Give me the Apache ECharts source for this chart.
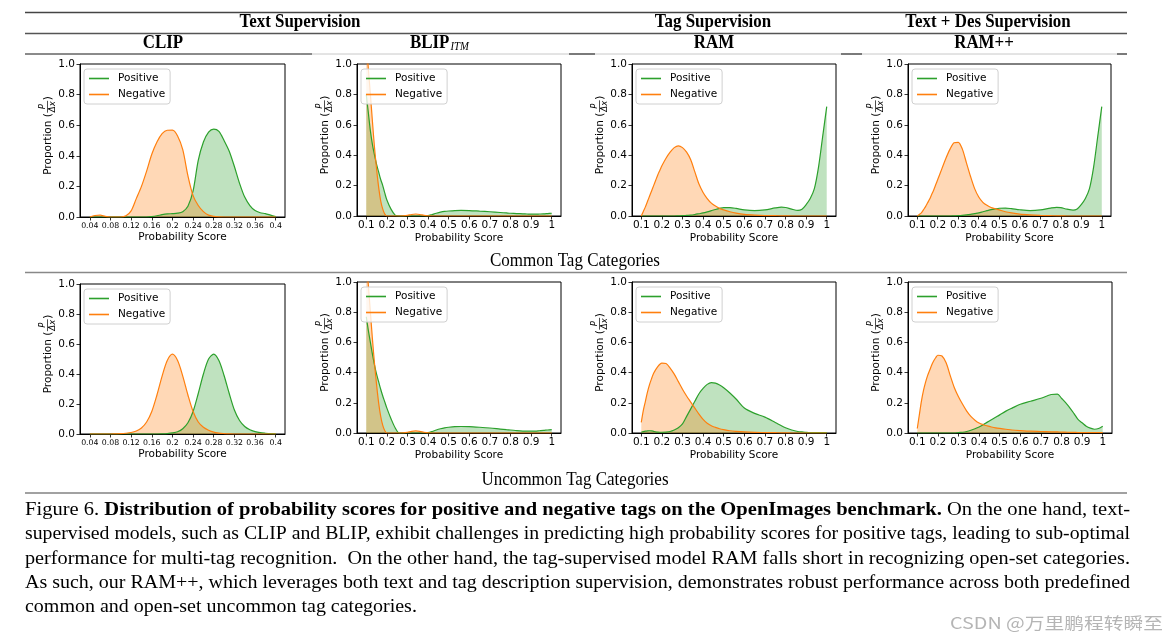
<!DOCTYPE html>
<html><head><meta charset="utf-8">
<script src="https://cdn.jsdelivr.net/npm/echarts@6/dist/echarts.min.js"></script>
<style>html,body{margin:0;padding:0;background:#fff}#c{width:1172px;height:640px}</style>
</head><body><div id="c"></div>
<script>
// ---------------- data ----------------
const clipTicks = [0.04,0.08,0.12,0.16,0.2,0.24,0.28,0.32,0.36,0.4];
const clipTickLabels = ['0.04','0.08','0.12','0.16','0.2','0.24','0.28','0.32','0.36','0.4'];
const scoreTicks = [0.1,0.2,0.3,0.4,0.5,0.6,0.7,0.8,0.9,1.0];
const scoreTickLabels = ['0.1','0.2','0.3','0.4','0.5','0.6','0.7','0.8','0.9','1'];
const yTickLabels = ['0.0','0.2','0.4','0.6','0.8','1.0'];

const clipX = [0.04,0.05,0.06,0.07,0.08,0.09,0.10,0.11,0.12,0.13,0.14,0.15,0.16,0.17,0.18,0.19,0.20,0.21,0.22,0.23,0.24,0.25,0.26,0.27,0.28,0.29,0.30,0.31,0.32,0.33,0.34,0.35,0.36,0.37,0.38,0.39,0.40];
const clipCommonPos = [0,0,0,0,0,0,0,0,0,0,0,0,0.003,0.008,0.015,0.02,0.022,0.025,0.035,0.07,0.17,0.37,0.49,0.555,0.575,0.56,0.5,0.43,0.33,0.22,0.13,0.075,0.042,0.028,0.022,0.012,0.002];
const clipCommonNeg = [0,0.01,0.012,0.004,0,0,0,0.008,0.04,0.12,0.2,0.3,0.41,0.49,0.545,0.567,0.568,0.53,0.44,0.27,0.14,0.075,0.035,0.012,0.004,0.001,0,0,0,0,0,0,0,0,0,0,0];
const clipUncommonPos = [0,0,0,0,0,0,0,0,0,0,0,0,0,0,0.001,0.003,0.007,0.015,0.035,0.075,0.15,0.27,0.40,0.50,0.533,0.49,0.39,0.27,0.16,0.09,0.05,0.028,0.016,0.009,0.005,0.002,0.001];
const clipUncommonNeg = [0,0,0,0,0,0.001,0.002,0.005,0.01,0.02,0.04,0.08,0.15,0.26,0.386,0.49,0.532,0.49,0.386,0.26,0.15,0.08,0.045,0.025,0.012,0.006,0.003,0.001,0,0,0,0,0,0,0,0,0];

const scoreX = [0.1,0.11,0.12,0.13,0.14,0.15,0.16,0.17,0.18,0.19,0.2,0.22,0.24,0.26,0.28,0.3,0.32,0.34,0.36,0.38,0.4,0.42,0.44,0.46,0.48,0.5,0.53,0.56,0.6,0.65,0.7,0.75,0.78,0.8,0.83,0.86,0.88,0.9,0.92,0.94,0.96,0.98,1.0];
const blipCommonPos = [0.8,0.68,0.56,0.47,0.4,0.34,0.29,0.24,0.2,0.15,0.105,0.045,0.006,0,0,0,0,0,0,0,0.002,0.01,0.018,0.025,0.03,0.033,0.036,0.037,0.036,0.032,0.028,0.023,0.02,0.018,0.016,0.014,0.013,0.012,0.012,0.013,0.014,0.016,0.018];
const blipCommonNeg = [1.15,0.97,0.8,0.62,0.45,0.31,0.19,0.1,0.045,0.012,0,0,0,0,0.001,0.004,0.01,0.013,0.01,0.004,0.001,0,0,0,0,0,0,0,0,0,0,0,0,0,0,0,0,0,0,0,0,0,0];
const blipUncommonPos = [0.77,0.68,0.6,0.52,0.45,0.39,0.34,0.29,0.245,0.205,0.165,0.095,0.035,0,0,0,0,0,0,0,0.002,0.01,0.02,0.028,0.034,0.038,0.042,0.043,0.042,0.038,0.033,0.026,0.022,0.02,0.016,0.013,0.012,0.012,0.013,0.015,0.017,0.02,0.022];
const blipUncommonNeg = [1.15,0.98,0.8,0.62,0.46,0.32,0.2,0.11,0.05,0.015,0,0,0,0,0.001,0.005,0.011,0.014,0.011,0.005,0.001,0,0,0,0,0,0,0,0,0,0,0,0,0,0,0,0,0,0,0,0,0,0];
const ramCommonPos = [0,0,0,0,0,0,0,0,0,0,0,0,0,0,0.001,0.002,0.004,0.006,0.01,0.015,0.02,0.027,0.035,0.043,0.05,0.055,0.055,0.05,0.04,0.035,0.04,0.053,0.058,0.056,0.045,0.037,0.045,0.075,0.115,0.18,0.32,0.52,0.72];
const ramCommonNeg = [0,0.03,0.06,0.095,0.13,0.165,0.2,0.235,0.27,0.3,0.33,0.38,0.42,0.45,0.462,0.45,0.42,0.37,0.29,0.21,0.155,0.115,0.085,0.065,0.05,0.04,0.028,0.019,0.011,0.006,0.003,0.002,0.001,0.001,0,0,0,0,0,0,0,0,0];
const rampCommonPos = [0,0,0,0,0,0,0,0,0,0,0,0,0,0,0.001,0.002,0.004,0.007,0.011,0.016,0.021,0.028,0.035,0.042,0.047,0.051,0.052,0.048,0.041,0.036,0.04,0.052,0.057,0.055,0.045,0.038,0.046,0.075,0.115,0.18,0.32,0.52,0.72];
const rampCommonNeg = [0,0.01,0.02,0.04,0.06,0.085,0.11,0.14,0.17,0.205,0.24,0.31,0.38,0.44,0.482,0.485,0.44,0.35,0.26,0.18,0.125,0.09,0.07,0.056,0.048,0.04,0.028,0.02,0.012,0.007,0.004,0.002,0.001,0.001,0,0,0,0,0,0,0,0,0];
const ramUncommonPos = [0.005,0.009,0.012,0.014,0.015,0.014,0.011,0.008,0.006,0.005,0.005,0.006,0.01,0.02,0.035,0.06,0.11,0.16,0.21,0.26,0.295,0.322,0.334,0.33,0.318,0.3,0.265,0.225,0.165,0.13,0.105,0.07,0.048,0.035,0.02,0.01,0.007,0.004,0.003,0.002,0.002,0.002,0.002];
const ramUncommonNeg = [0.07,0.15,0.21,0.27,0.32,0.36,0.395,0.42,0.44,0.455,0.463,0.46,0.43,0.39,0.34,0.29,0.245,0.205,0.165,0.125,0.09,0.065,0.048,0.037,0.028,0.022,0.015,0.011,0.007,0.004,0.003,0.002,0.001,0.001,0,0,0,0,0,0,0,0,0];
const rampUncommonPos = [0,0,0,0,0,0,0,0,0,0,0,0,0,0,0,0.003,0.005,0.01,0.018,0.028,0.04,0.055,0.072,0.088,0.104,0.12,0.145,0.165,0.19,0.21,0.23,0.255,0.258,0.23,0.185,0.13,0.09,0.068,0.045,0.032,0.025,0.03,0.045];
const rampUncommonNeg = [0.03,0.12,0.21,0.28,0.335,0.38,0.415,0.45,0.478,0.5,0.515,0.51,0.465,0.38,0.3,0.24,0.19,0.145,0.11,0.085,0.066,0.055,0.047,0.04,0.034,0.03,0.025,0.02,0.016,0.012,0.01,0.008,0.007,0.006,0.005,0.004,0.003,0.003,0.002,0.002,0.002,0.002,0.002];

const colTitles = ['CLIP','BLIP','RAM','RAM++'];
const groupTitles = ['Text Supervision','Tag Supervision','Text + Des Supervision'];
const rowTitles = ['Common Tag Categories','Uncommon Tag Categories'];
const seriesNames = ['Positive','Negative'];

// ---------------- layout ----------------
const GREEN = '#2ca02c', ORANGE = '#ff7f0e';
const panels = [
  {g:{left:80,top:64,width:205,height:153}, kind:'clip', x:clipX, pos:clipCommonPos, neg:clipCommonNeg},
  {g:{left:357,top:64,width:204,height:152}, kind:'score', x:scoreX, pos:blipCommonPos, neg:blipCommonNeg},
  {g:{left:632,top:64,width:204,height:152}, kind:'score', x:scoreX, pos:ramCommonPos, neg:ramCommonNeg},
  {g:{left:908,top:64,width:203,height:152}, kind:'score', x:scoreX, pos:rampCommonPos, neg:rampCommonNeg},
  {g:{left:80,top:284,width:205,height:150}, kind:'clip', x:clipX, pos:clipUncommonPos, neg:clipUncommonNeg},
  {g:{left:357,top:282,width:204,height:151}, kind:'score', x:scoreX, pos:blipUncommonPos, neg:blipUncommonNeg},
  {g:{left:632,top:282,width:204,height:151}, kind:'score', x:scoreX, pos:ramUncommonPos, neg:ramUncommonNeg},
  {g:{left:908,top:282,width:204,height:151}, kind:'score', x:scoreX, pos:rampUncommonPos, neg:rampUncommonNeg}
];

const ctx = document.createElement('canvas').getContext('2d');
function measure(t, font){ ctx.font = font; return ctx.measureText(t).width; }
const SANS = '"DejaVu Sans"';
const SERIF = '"Liberation Serif"';

const grid = [], xAxis = [], yAxis = [], series = [], legend = [], graphic = [];
panels.forEach((p, i) => {
  grid.push(Object.assign({show:true, borderColor:'#000', borderWidth:1, containLabel:false}, p.g));
  const ticks = p.kind === 'clip' ? clipTicks : scoreTicks;
  const labels = p.kind === 'clip' ? clipTickLabels : scoreTickLabels;
  const fmt = v => { const k = ticks.findIndex(t => Math.abs(t - v) < 1e-9); return k >= 0 ? labels[k] : ''; };
  xAxis.push({
    type:'value', gridIndex:i,
    min: p.kind === 'clip' ? 0.021 : 0.055, max: p.kind === 'clip' ? 0.418 : 1.045,
    axisLine:{show:true, onZero:false, lineStyle:{color:'#000', width:1}},
    axisTick:{show:true, customValues:ticks, length:3.5, lineStyle:{color:'#000', width:0.8}},
    axisLabel:{show:true, customValues:ticks, formatter:fmt, color:'#000', fontFamily:SANS, fontSize: p.kind === 'clip' ? 7.8 : 10.5, margin: p.kind==='clip' ? 5 : 4},
    splitLine:{show:false},
    name:'Probability Score', nameLocation:'middle', nameGap: p.kind==='clip' ? 15 : 17,
    nameTextStyle:{color:'#000', fontFamily:SANS, fontSize:10.5}
  });
  yAxis.push({
    type:'value', gridIndex:i, min:0, max:1, interval:0.2,
    axisLine:{show:true, lineStyle:{color:'#000', width:1}},
    axisTick:{show:true, length:3.5, lineStyle:{color:'#000', width:0.8}},
    axisLabel:{color:'#000', fontFamily:SANS, fontSize:10.5, margin:5, formatter: v => yTickLabels[Math.round(v/0.2)]},
    splitLine:{show:false}
  });
  const mk = (name, ys, color) => ({
    type:'line', name, xAxisIndex:i, yAxisIndex:i,
    data: p.x.map((x, k) => [x, ys[k]]),
    smooth:0.3, symbol:'none', clip:true,
    color, itemStyle:{color},
    lineStyle:{color, width:1.2},
    areaStyle:{color, opacity:0.3},
    silent:true
  });
  series.push(mk(seriesNames[0], p.pos, GREEN));
  series.push(mk(seriesNames[1], p.neg, ORANGE));
  legend.push({
    left:p.g.left+4, top:p.g.top+5, orient:'vertical', data:seriesNames.slice(),
    icon:'rect', itemWidth:20, itemHeight:1.6, itemGap:5, padding:[4,5,4,5],
    borderColor:'#d0d0d0', borderWidth:1, borderRadius:3, backgroundColor:'rgba(255,255,255,0.8)',
    selectedMode:false,
    textStyle:{fontFamily:SANS, fontSize:10.5, color:'#000', padding:[0,0,0,4]}
  });
  // y axis label with stacked fraction
  const f1 = '10.5px ' + SANS, ff = 'italic 8.5px ' + SANS;
  const w1 = measure('Proportion (', f1);
  const wf = Math.max(measure('P', ff), measure('\u0394x', ff)) + 2;
  const w3 = measure(')', f1);
  const W = w1 + wf + w3, x0 = -W/2;
  const cx = p.g.left - 32, cy = p.g.top + p.g.height/2 - 5;
  graphic.push({type:'group', x:cx, y:cy, rotation:Math.PI/2, silent:true, children:[
    {type:'text', x:x0, y:0, style:{text:'Proportion (', font:f1, fill:'#000', textAlign:'left', textVerticalAlign:'middle'}},
    {type:'text', x:x0+w1+wf/2, y:-5, style:{text:'P', font:ff, fill:'#000', textAlign:'center', textVerticalAlign:'middle'}},
    {type:'line', shape:{x1:x0+w1+0.5, y1:-0.5, x2:x0+w1+wf-0.5, y2:-0.5}, style:{stroke:'#000', lineWidth:0.7}},
    {type:'text', x:x0+w1+wf/2, y:4.5, style:{text:'\u0394x', font:ff, fill:'#000', textAlign:'center', textVerticalAlign:'middle'}},
    {type:'text', x:x0+w1+wf, y:0, style:{text:')', font:f1, fill:'#000', textAlign:'left', textVerticalAlign:'middle'}}
  ]});
});

// ---------------- table rules & titles ----------------
function hline(x1, x2, y, color, w){ graphic.push({type:'line', silent:true, shape:{x1, y1:y, x2, y2:y}, style:{stroke:color, lineWidth:w}}); }
hline(25, 1127, 12.5, '#444', 1.5);
hline(25, 1127, 33.5, '#555', 1.3);
hline(25, 1127, 54, '#c8c8c8', 1);
[[25,312],[569,595],[841,862],[1117,1127]].forEach(s => hline(s[0], s[1], 54, '#333', 1.2));
hline(25, 1127, 272.5, '#888', 1.5);
hline(25, 1127, 493, '#444', 1.2);

function txt(text, font, cx, cy, sx, align, fill){
  graphic.push({type:'text', silent:true, x:cx, y:cy, scaleX:sx, style:{text, font, fill: fill || '#000', textAlign: align || 'center', textVerticalAlign:'middle'}});
}
const HB = 'bold 19px ' + SERIF;
const HS = 121 / measure(groupTitles[0], HB);
txt(groupTitles[0], HB, 300, 22, HS);
txt(groupTitles[1], HB, 713, 22, HS);
txt(groupTitles[2], HB, 988, 22, HS);
txt(colTitles[0], HB, 163, 43, HS);
txt(colTitles[1], HB, 410, 43, HS, 'left');
txt('ITM', 'italic 12px ' + SERIF, 410 + measure(colTitles[1], HB) * HS + 1, 47, HS, 'left');
txt(colTitles[2], HB, 714, 43, HS);
txt(colTitles[3], HB, 984, 43, HS);
const RF = '18px ' + SERIF;
const RS = 170 / measure(rowTitles[0], RF);
txt(rowTitles[0], RF, 575, 261, RS);
txt(rowTitles[1], RF, 575, 480, RS);

// ---------------- caption ----------------
const CF = 19;
const capN = CF + 'px ' + SERIF, capB = 'bold ' + CF + 'px ' + SERIF;
const captionLines = [
  [['Figure 6. ', 'n'], ['Distribution of probability scores for positive and negative tags on the OpenImages benchmark.', 'b'], [' On the one hand, text-', 'n']],
  [['supervised models, such as CLIP and BLIP, exhibit challenges in predicting high probability scores for positive tags, leading to sub-optimal', 'n']],
  [['performance for multi-tag recognition.  On the other hand, the tag-supervised model RAM falls short in recognizing open-set categories.', 'n']],
  [['As such, our RAM++, which leverages both text and tag description supervision, demonstrates robust performance across both predefined', 'n']],
  [['common and open-set uncommon tag categories.', 'n']]
];
const capY = [510, 534.5, 559, 583.5, 607.5];
let lastScale = 0.9;
captionLines.forEach((segs, li) => {
  let w = 0; segs.forEach(s => { w += measure(s[0], s[1] === 'b' ? capB : capN); });
  const sx = li < 4 ? 1105 / w : lastScale;
  if (li < 4) lastScale = sx;
  const text = segs.map(s => '{' + s[1] + '|' + s[0] + '}').join('');
  graphic.push({type:'text', silent:true, x:25, y:capY[li], scaleX:sx, style:{
    text, textAlign:'left', textVerticalAlign:'middle',
    rich:{ n:{font:capN, fill:'#000'}, b:{font:capB, fill:'#000'} }
  }});
});
// watermark
const WF = '16px "Noto Sans CJK SC"';
txt('CSDN @万里鹏程转瞬至', WF, 1163, 623, 213 / measure('CSDN @万里鹏程转瞬至', WF), 'right', '#b5b5b5');

const chart = echarts.init(document.getElementById('c'), null, {renderer:'canvas'});
chart.setOption({
  animation:false, backgroundColor:'#fff',
  grid, xAxis, yAxis, series, legend, graphic
});
</script>
</body></html>
